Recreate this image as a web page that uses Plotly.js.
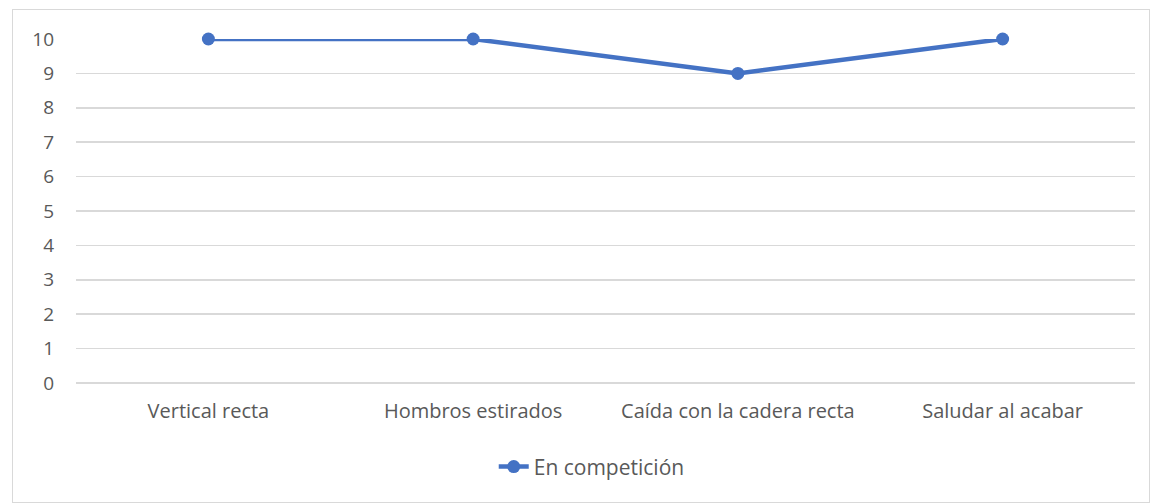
<!DOCTYPE html>
<html><head><meta charset="utf-8">
<script src="https://cdn.plot.ly/plotly-3.0.1.min.js"></script>
<style>
html,body{margin:0;padding:0;background:#fff;}
#frame{position:absolute;left:12px;top:9px;width:1138px;height:494px;border:1px solid #d9d9d9;box-sizing:border-box;}
#chart{position:absolute;left:0;top:0;width:1152px;height:503px;}
</style></head>
<body>
<div id="frame"></div>
<div id="chart"></div>
<script>
const categories = ["Vertical recta", "Hombros estirados", "Caída con la cadera recta", "Saludar al acabar"];
const enCompeticion = [10, 10, 9, 10];
const seriesName = "En competición";
const yTicks = [0,1,2,3,4,5,6,7,8,9,10];

const trace = {
  x: categories, y: enCompeticion, name: seriesName,
  type: "scatter", mode: "lines+markers",
  line: {color: "#4472C4", width: 4.5},
  marker: {color: "#4472C4", size: 13},
  cliponaxis: false
};
const layout = {
  width: 1152, height: 503,
  paper_bgcolor: "rgba(0,0,0,0)", plot_bgcolor: "rgba(0,0,0,0)",
  margin: {l: 76, r: 17, t: 39, b: 120},
  font: {family: "Open Sans, sans-serif", size: 19, color: "#595959"},
  showlegend: true,
  legend: {orientation: "h", x: 0.487, xanchor: "center", y: -0.244, yanchor: "middle", font: {size: 21, color: "#595959"}},
  xaxis: {type: "category", range: [-0.5, 3.5], showgrid: false, zeroline: false, showline: false, ticks: "", ticklabelstandoff: 14, tickfont: {size: 20}},
  yaxis: {range: [0, 10], tickvals: yTicks, showgrid: true, gridcolor: "#d9d9d9", gridwidth: 1.5, zeroline: true, zerolinecolor: "#d9d9d9", zerolinewidth: 1.5, showline: false, ticks: "", ticklabelstandoff: 21, tickfont: {size: 19}}
};
Plotly.newPlot("chart", [trace], layout, {staticPlot: true});
</script>
</body></html>
